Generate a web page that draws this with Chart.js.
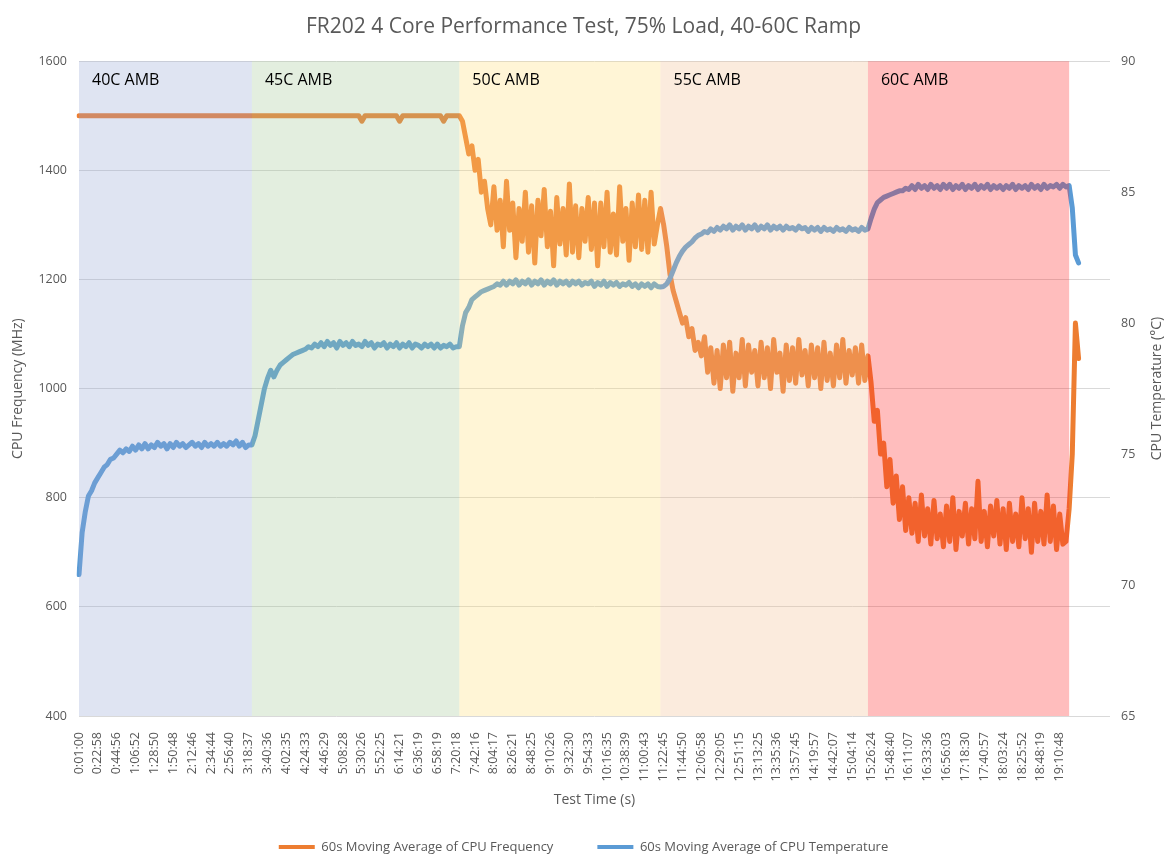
<!DOCTYPE html>
<html>
<head>
<meta charset="utf-8">
<script src="https://cdn.jsdelivr.net/npm/chart.js@4"></script>
<style>
  html, body { margin: 0; padding: 0; background: #fff; }
  canvas { display: block; }
</style>
</head>
<body>
<canvas id="perfChart" width="1167" height="854"></canvas>
<script>
// x axis tick labels (one every 6 samples)
const tickLabels = [
  '0:01:00','0:22:58','0:44:56','1:06:52','1:28:50','1:50:48','2:12:46','2:34:44','2:56:40','3:18:37',
  '3:40:36','4:02:35','4:24:33','4:46:29','5:08:28','5:30:26','5:52:25','6:14:21','6:36:19','6:58:19',
  '7:20:18','7:42:16','8:04:17','8:26:21','8:48:25','9:10:26','9:32:30','9:54:33','10:16:35','10:38:39',
  '11:00:43','11:22:45','11:44:50','12:06:58','12:29:05','12:51:15','13:13:25','13:35:36','13:57:45','14:19:57',
  '14:42:07','15:04:14','15:26:24','15:48:40','16:11:07','16:33:36','16:56:03','17:18:30','17:40:57','18:03:24',
  '18:25:52','18:48:19','19:10:48'
];
const samplesPerTick = 6;
const axisSlots = 329;

// 60s moving average of CPU frequency (MHz), one row per tick interval
const cpuFreq = [
  1500,1500,1500,1500,1500,1500,
  1500,1500,1500,1500,1500,1500,
  1500,1500,1500,1500,1500,1500,
  1500,1500,1500,1500,1500,1500,
  1500,1500,1500,1500,1500,1500,
  1500,1500,1500,1500,1500,1500,
  1500,1500,1500,1500,1500,1500,
  1500,1500,1500,1500,1500,1500,
  1500,1500,1500,1500,1500,1500,
  1500,1500,1500,1500,1500,1500,
  1500,1500,1500,1500,1500,1500,
  1500,1500,1500,1500,1500,1500,
  1500,1500,1500,1500,1500,1500,
  1500,1500,1500,1500,1500,1500,
  1500,1500,1500,1500,1500,1500,
  1490,1500,1500,1500,1500,1500,
  1500,1500,1500,1500,1500,1500,
  1490,1500,1500,1500,1500,1500,
  1500,1500,1500,1500,1500,1500,
  1500,1500,1490,1500,1500,1500,
  1500,1500,1490,1460,1430,1445,
  1400,1420,1360,1380,1330,1300,
  1370,1290,1345,1260,1380,1290,
  1340,1240,1330,1270,1360,1250,
  1335,1230,1345,1280,1365,1260,
  1325,1225,1350,1265,1330,1245,
  1375,1250,1335,1240,1330,1270,
  1350,1255,1340,1225,1340,1260,
  1360,1250,1320,1245,1370,1270,
  1330,1235,1340,1260,1355,1255,
  1345,1250,1360,1265,1300,1330,
  1300,1260,1210,1180,1160,1140,
  1120,1130,1095,1110,1070,1085,
  1060,1095,1030,1075,1010,1070,
  1000,1080,1020,1085,995,1065,
  1020,1090,1005,1080,1030,1070,
  1005,1085,1020,1075,1000,1090,
  1030,1065,995,1080,1015,1075,
  1010,1090,1025,1070,1005,1080,
  1020,1075,1000,1085,1015,1065,
  1005,1080,1020,1090,1010,1070,
  1025,1075,1010,1080,1015,1060,
  1010,940,960,880,900,820,
  870,790,840,760,820,740,
  800,735,790,720,805,730,
  780,715,795,725,770,710,
  785,720,800,705,775,730,
  790,715,780,725,830,720,
  775,710,785,730,795,715,
  780,705,790,720,770,710,
  800,725,780,700,790,720,
  775,715,805,720,785,705,
  770,715,720,780,880,1120,
  1055
];

// 60s moving average of CPU temperature (°C)
const cpuTemp = [
  70.4,72.0,72.8,73.4,73.6,73.9,
  74.1,74.3,74.5,74.6,74.8,74.85,
  75.0,75.15,75.05,75.2,75.1,75.3,
  75.15,75.35,75.2,75.4,75.2,75.35,
  75.25,75.45,75.3,75.4,75.2,75.4,
  75.25,75.45,75.3,75.4,75.25,75.35,
  75.45,75.3,75.4,75.25,75.45,75.3,
  75.4,75.3,75.45,75.3,75.4,75.3,
  75.45,75.35,75.5,75.3,75.45,75.25,
  75.35,75.35,75.7,76.3,76.9,77.5,
  77.9,78.2,77.95,78.2,78.4,78.5,
  78.6,78.7,78.8,78.85,78.9,78.95,
  79.0,79.1,79.05,79.2,79.1,79.25,
  79.1,79.3,79.15,79.25,79.05,79.3,
  79.15,79.25,79.1,79.3,79.15,79.2,
  79.1,79.3,79.15,79.25,79.05,79.2,
  79.15,79.25,79.05,79.2,79.1,79.25,
  79.05,79.2,79.1,79.25,79.05,79.2,
  79.15,79.05,79.2,79.1,79.2,79.05,
  79.2,79.05,79.15,79.1,79.2,79.05,
  79.1,79.1,79.9,80.4,80.6,80.9,
  81.0,81.1,81.2,81.25,81.3,81.35,
  81.4,81.5,81.45,81.6,81.45,81.6,
  81.5,81.65,81.45,81.6,81.5,81.65,
  81.45,81.6,81.5,81.65,81.45,81.6,
  81.5,81.65,81.45,81.6,81.5,81.6,
  81.45,81.6,81.5,81.6,81.45,81.55,
  81.5,81.6,81.4,81.55,81.45,81.6,
  81.4,81.55,81.45,81.55,81.4,81.5,
  81.45,81.55,81.4,81.5,81.35,81.5,
  81.4,81.5,81.35,81.5,81.4,81.38,
  81.4,81.5,81.7,82.0,82.3,82.55,
  82.75,82.9,83.0,83.1,83.25,83.35,
  83.4,83.5,83.45,83.6,83.5,83.65,
  83.55,83.7,83.6,83.75,83.55,83.7,
  83.6,83.75,83.55,83.7,83.6,83.75,
  83.55,83.7,83.6,83.75,83.55,83.7,
  83.6,83.7,83.55,83.7,83.6,83.65,
  83.55,83.7,83.6,83.65,83.5,83.65,
  83.55,83.65,83.5,83.65,83.55,83.6,
  83.5,83.65,83.55,83.6,83.5,83.65,
  83.55,83.6,83.5,83.65,83.55,83.6,
  84.0,84.35,84.6,84.7,84.8,84.85,
  84.9,84.95,85.0,85.05,85.05,85.15,
  85.1,85.25,85.1,85.3,85.15,85.25,
  85.1,85.3,85.15,85.25,85.1,85.3,
  85.15,85.3,85.1,85.25,85.15,85.3,
  85.1,85.25,85.15,85.3,85.1,85.25,
  85.15,85.3,85.1,85.25,85.15,85.25,
  85.1,85.25,85.15,85.3,85.1,85.25,
  85.15,85.25,85.1,85.3,85.15,85.25,
  85.1,85.3,85.15,85.25,85.2,85.3,
  85.15,85.3,85.2,85.25,84.4,82.6,
  82.3
];

// ambient phases (sample index where each starts / ends)
const bandNames = ['40C AMB', '45C AMB', '50C AMB', '55C AMB', '60C AMB'];
const bandStart = [0, 55, 121, 185, 251];
const bandEnd = [55, 121, 185, 251, 315];
const bandColors = [
  'rgba(148,165,212,0.3)',
  'rgba(162,198,148,0.3)',
  'rgba(255,222,118,0.3)',
  'rgba(242,188,142,0.3)',
  'rgba(255,35,35,0.3)'
];

const labels = Array.from({ length: axisSlots }, (_, i) =>
  i % samplesPerTick === 0 && tickLabels[i / samplesPerTick] ? tickLabels[i / samplesPerTick] : '');

const FONT = "'Open Sans', sans-serif";
Chart.defaults.font.family = FONT;
Chart.defaults.color = '#595959';

// translucent ambient bands over the lines, like the excel sheet
const bandPlugin = {
  id: 'ambientBands',
  afterDatasetsDraw(chart) {
    const { ctx, chartArea, scales } = chart;
    ctx.save();
    bandNames.forEach((name, i) => {
      const x0 = scales.x.getPixelForValue(bandStart[i]);
      const x1 = scales.x.getPixelForValue(bandEnd[i]);
      ctx.fillStyle = bandColors[i];
      ctx.fillRect(x0, chartArea.top, x1 - x0, chartArea.bottom - chartArea.top);
      ctx.fillStyle = '#000';
      ctx.font = '16px ' + FONT;
      ctx.textBaseline = 'middle';
      ctx.fillText(name, x0 + 13, chartArea.top + 19);
    });
    ctx.restore();
  },
  afterDraw(chart) {
    // secondary axis title reads bottom-to-top in the original
    const { ctx, chartArea, scales } = chart;
    ctx.save();
    ctx.translate(scales.yTemp.right - 10, (chartArea.top + chartArea.bottom) / 2);
    ctx.rotate(-Math.PI / 2);
    ctx.font = '14px ' + FONT;
    ctx.fillStyle = '#595959';
    ctx.textAlign = 'center';
    ctx.textBaseline = 'middle';
    ctx.fillText('CPU Temperature (°C)', 0, 0);
    ctx.restore();
  }
};

new Chart(document.getElementById('perfChart'), {
  type: 'line',
  data: {
    labels,
    datasets: [
      {
        label: '60s Moving Average of CPU Frequency',
        data: cpuFreq,
        yAxisID: 'yFreq',
        borderColor: '#ED7D31',
        backgroundColor: '#ED7D31',
        borderWidth: 5,
        pointRadius: 0,
        borderJoinStyle: 'round',
        borderCapStyle: 'round',
        order: 1
      },
      {
        label: '60s Moving Average of CPU Temperature',
        data: cpuTemp,
        yAxisID: 'yTemp',
        borderColor: '#5B9BD5',
        backgroundColor: '#5B9BD5',
        borderWidth: 5,
        pointRadius: 0,
        borderJoinStyle: 'round',
        borderCapStyle: 'round',
        order: 0
      }
    ]
  },
  options: {
    responsive: false,
    animation: false,
    layout: { padding: { left: 0, right: 0, top: 0, bottom: -9.5 } },
    plugins: {
      tooltip: { enabled: false },
      title: {
        display: true,
        text: 'FR202 4 Core Performance Test, 75% Load, 40-60C Ramp',
        color: '#595959',
        font: { size: 21, weight: 'normal' },
        padding: { top: 14, bottom: 22 }
      },
      legend: {
        position: 'bottom',
        labels: {
          boxWidth: 36,
          boxHeight: 4,
          padding: 44,
          color: '#595959',
          font: { size: 13 },
          generateLabels: (chart) => chart.data.datasets.map((ds, i) => ({
            text: ds.label,
            fillStyle: ds.borderColor,
            strokeStyle: ds.borderColor,
            lineWidth: 0,
            hidden: false,
            datasetIndex: i,
            fontColor: '#595959'
          }))
        }
      }
    },
    scales: {
      x: {
        type: 'category',
        offset: false,
        grid: { display: false },
        border: { display: false },
        ticks: {
          autoSkip: false,
          minRotation: 90,
          maxRotation: 90,
          padding: 8,
          font: { size: 12.5 },
          color: '#595959'
        },
        title: {
          display: true,
          text: 'Test Time (s)',
          font: { size: 14 },
          color: '#595959',
          padding: { top: 0, bottom: -12 }
        },
        afterFit: (scale) => { scale.height = 80.5; }
      },
      yFreq: {
        position: 'left',
        min: 400,
        max: 1600,
        grid: { color: '#D9D9D9', drawTicks: false },
        border: { display: false },
        ticks: { stepSize: 200, padding: 12, font: { size: 12.5 }, color: '#595959', callback: (v) => String(v) },
        title: {
          display: true,
          text: 'CPU Frequency (MHz)',
          font: { size: 14 },
          color: '#595959',
          padding: { top: 10, bottom: 4 }
        },
        afterFit: (scale) => { scale.width = 79; }
      },
      yTemp: {
        position: 'right',
        min: 65,
        max: 90,
        grid: { drawOnChartArea: false, drawTicks: false },
        border: { display: false },
        ticks: { stepSize: 5, padding: 11, font: { size: 12.5 }, color: '#595959', callback: (v) => String(v) },
        afterFit: (scale) => { scale.width = 57; }
      }
    }
  },
  plugins: [bandPlugin]
});
</script>
</body>
</html>
